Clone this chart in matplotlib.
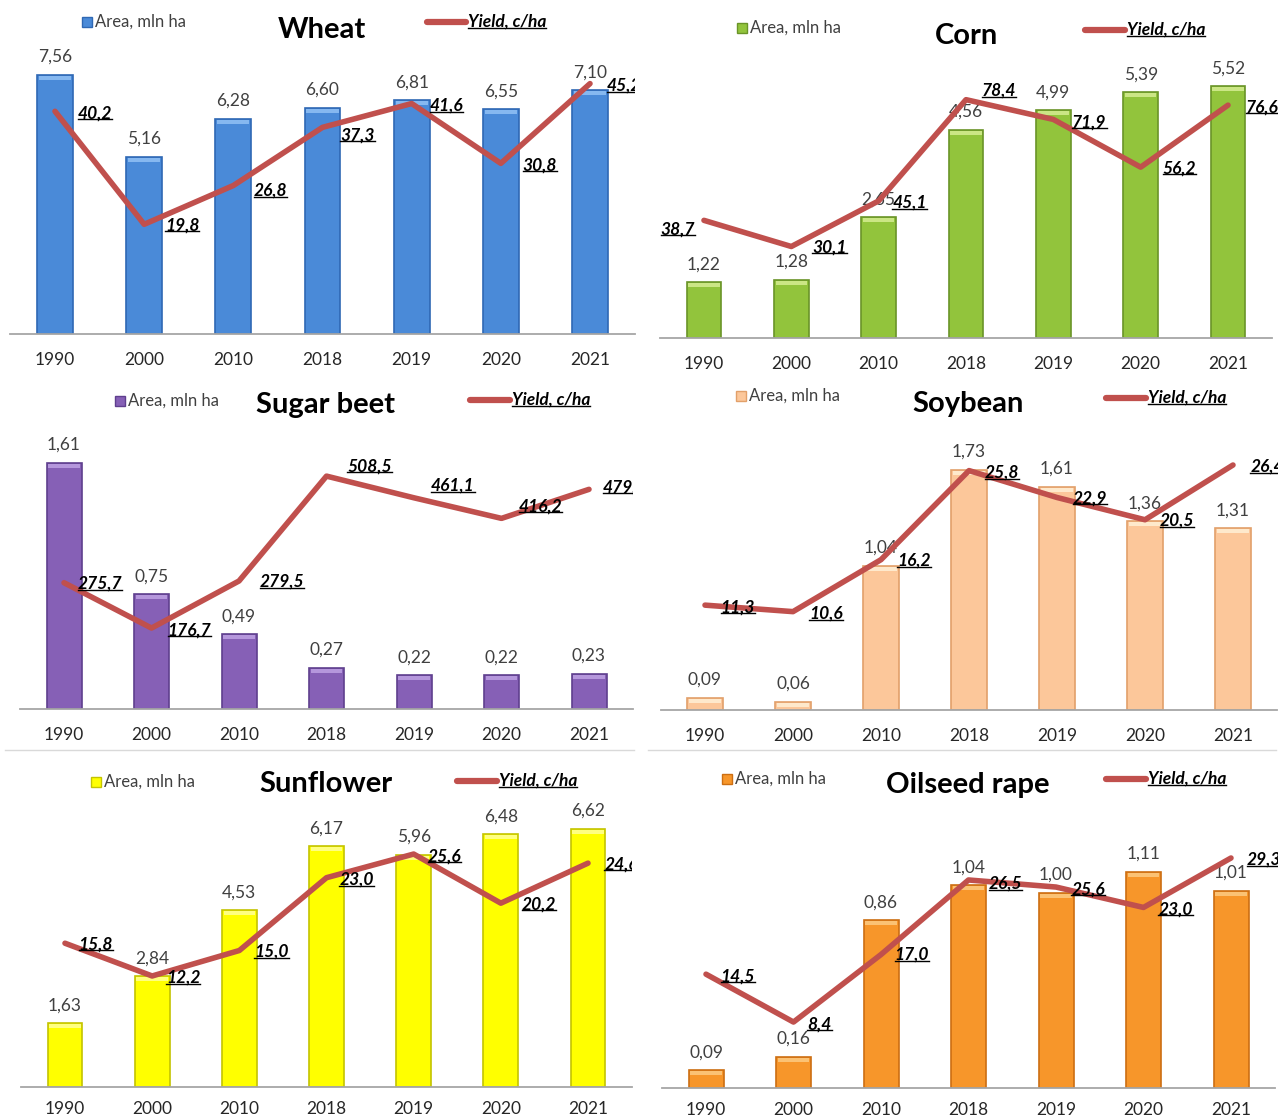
import matplotlib.pyplot as plt
import numpy as np
from matplotlib.lines import Line2D
from matplotlib.transforms import offset_copy

plt.rcParams['font.family'] = ['Lato', 'DejaVu Sans']

W, H = 1278, 1119

years = ['1990', '2000', '2010', '2018', '2019', '2020', '2021']

wheat_area = [7.56, 5.16, 6.28, 6.60, 6.81, 6.55, 7.10]
wheat_yield = [40.2, 19.8, 26.8, 37.3, 41.6, 30.8, 45.2]

corn_area = [1.22, 1.28, 2.65, 4.56, 4.99, 5.39, 5.52]
corn_yield = [38.7, 30.1, 45.1, 78.4, 71.9, 56.2, 76.6]

beet_area = [1.61, 0.75, 0.49, 0.27, 0.22, 0.22, 0.23]
beet_yield = [275.7, 176.7, 279.5, 508.5, 461.1, 416.2, 479.6]

soy_area = [0.09, 0.06, 1.04, 1.73, 1.61, 1.36, 1.31]
soy_yield = [11.3, 10.6, 16.2, 25.8, 22.9, 20.5, 26.4]

sun_area = [1.63, 2.84, 4.53, 6.17, 5.96, 6.48, 6.62]
sun_yield = [15.8, 12.2, 15.0, 23.0, 25.6, 20.2, 24.6]

rape_area = [0.09, 0.16, 0.86, 1.04, 1.00, 1.11, 1.01]
rape_yield = [14.5, 8.4, 17.0, 26.5, 25.6, 23.0, 29.3]

LINE_RED = '#c0504d'

# layout in pixels: box = (left, right, top, baseline), px per unit for both axes,
# yield label offsets (dx, dy down), title / legend anchors
panels = [
    dict(name='Wheat', area=wheat_area, yld=wheat_yield,
         color='#4a8ad8', edge='#2f68b4', cap='#86b8f0',
         box=(10.4, 634.6, 40, 334), area_px=34.3, yield_px=5.54,
         offs=[(40, 2), (38, 1), (37, 5), (35, 8), (35, 2), (39, 2), (34, 2)],
         title=(322, 30), square=(87, 22), leg_line=(427, 466, 22), clip=True, pad=13),
    dict(name='Corn', area=corn_area, yld=corn_yield,
         color='#92c43c', edge='#6a9428', cap='#cbe685',
         box=(660.3, 1271.7, 45, 338), area_px=45.6, yield_px=3.04,
         offs=[(-26, 9), (38, 1), (31, 2), (33, -9), (36, 3), (39, 1), (34, 2)],
         title=(966, 36), square=(742, 28), leg_line=(1085, 1125, 30), clip=False, pad=13),
    dict(name='Sugar beet', area=beet_area, yld=beet_yield,
         color='#8660b6', edge='#5f3f8e', cap='#b597dc',
         box=(20.25, 632.75, 420, 709), area_px=152.8, yield_px=0.458,
         offs=[(36, 1), (38, 2), (43, 1), (43, -10), (39, -12), (39, -12), (36, -2)],
         title=(326, 405), square=(120, 401), leg_line=(470, 510, 400), clip=True, pad=13),
    dict(name='Soybean', area=soy_area, yld=soy_yield,
         color='#fcc79a', edge='#e2a06a', cap='#fee9cc',
         box=(661, 1277, 420, 710), area_px=138.7, yield_px=9.28,
         offs=[(33, 2), (33, 2), (33, 1), (33, 2), (33, 1), (32, 1), (34, 2)],
         title=(968, 404), square=(741, 396), leg_line=(1106, 1146, 398), clip=False, pad=13),
    dict(name='Sunflower', area=sun_area, yld=sun_yield,
         color='#ffff00', edge='#c4c400', cap='#ffff80',
         box=(21.4, 631.6, 800, 1087), area_px=39.0, yield_px=9.1,
         offs=[(31, 1), (31, 2), (32, 1), (30, 2), (31, 2), (38, 1), (33, 1)],
         title=(326, 784), square=(96, 782), leg_line=(457, 497, 781), clip=True, pad=10),
    dict(name='Oilseed rape', area=rape_area, yld=rape_yield,
         color='#f7962a', edge='#cc6e12', cap='#fbc274',
         box=(662.25, 1274.75, 800, 1088), area_px=195.0, yield_px=7.85,
         offs=[(32, 2), (26, 2), (31, 0), (37, 4), (32, 2), (32, 2), (33, 2)],
         title=(968, 785), square=(727, 779), leg_line=(1106, 1146, 779), clip=False, pad=10),
]


def fx(x):
    return x / W


def fy(y):
    return 1 - y / H


fig = plt.figure(figsize=(W / 100, H / 100), dpi=100)
underlined = []

for p in panels:
    left, right, top, base = p['box']
    ax = fig.add_axes([fx(left), fy(base), (right - left) / W, (base - top) / H])
    ax2 = ax.twinx()
    x = np.arange(len(years))
    area = np.array(p['area'])

    ax.set_xlim(-0.5, len(years) - 0.5)
    ax.set_ylim(0, (base - top) / p['area_px'])
    ax2.set_ylim(0, (base - top) / p['yield_px'])

    # bars with a lighter bevel on top
    ax.bar(x, area, 0.4, color=p['color'], edgecolor=p['edge'], linewidth=1.2, zorder=2)
    cap_h = 4 / p['area_px']
    ax.bar(x, np.full(len(x), cap_h), 0.36, bottom=area - cap_h - 1 / p['area_px'],
           color=p['cap'], edgecolor='none', zorder=3)
    for i, v in enumerate(area):
        ax.text(i, v, f'{v:.2f}'.replace('.', ','), ha='center', va='center',
                fontsize=12.5, color='#404040',
                transform=offset_copy(ax.transData, fig=fig, x=0, y=18, units='dots'))

    ax2.plot(x, p['yld'], color=LINE_RED, lw=4, solid_joinstyle='round',
             solid_capstyle='round', zorder=4)
    for i, v in enumerate(p['yld']):
        dx, dy = p['offs'][i]
        t = ax2.text(i, v, f'{v:.1f}'.replace('.', ','), ha='center', va='center',
                     fontsize=12.5, fontweight='bold', style='italic', color='black',
                     transform=offset_copy(ax2.transData, fig=fig, x=dx, y=-dy, units='dots'),
                     clip_on=p['clip'], zorder=5)
        underlined.append((t, ax if p['clip'] else None))

    ax.set_xticks(x, years)
    ax.tick_params(axis='x', length=0, pad=p['pad'], labelsize=12.5, labelcolor='#262626')
    ax.set_yticks([])
    ax2.set_yticks([])
    for s in ['left', 'right', 'top']:
        ax.spines[s].set_visible(False)
    for s in ax2.spines.values():
        s.set_visible(False)
    ax.spines['bottom'].set_color('#a6a6a6')
    ax.spines['bottom'].set_linewidth(1.3)

    # title and legend entries
    tx, ty = p['title']
    fig.text(fx(tx), fy(ty), p['name'], ha='center', va='center',
             fontsize=21, fontweight='bold', color='black')
    sx, sy = p['square']
    fig.add_artist(Line2D([fx(sx)], [fy(sy)], marker='s', ms=7, color=p['color'],
                          mec=p['edge'], transform=fig.transFigure))
    fig.text(fx(sx + 8), fy(sy), 'Area, mln ha', ha='left', va='center',
             fontsize=12, color='#404040')
    lx0, lx1, ly = p['leg_line']
    fig.add_artist(Line2D([fx(lx0), fx(lx1)], [fy(ly), fy(ly)], lw=4.5, color=LINE_RED,
                          solid_capstyle='round', transform=fig.transFigure))
    t = fig.text(fx(lx1 + 2), fy(ly), 'Yield, c/ha', ha='left', va='center',
                 fontsize=12.5, fontweight='bold', style='italic', color='black')
    underlined.append((t, None))

# thin separators between the rows of charts
for x0, x1 in [(5, 634), (648, 1276)]:
    fig.add_artist(Line2D([fx(x0), fx(x1)], [fy(750), fy(750)], lw=1,
                          color='#d9d9d9', transform=fig.transFigure))

# underline the yield values
fig.canvas.draw()
renderer = fig.canvas.get_renderer()
inv = fig.transFigure.inverted()
for t, clip_ax in underlined:
    bb = t.get_window_extent(renderer)
    (a0, b0), (a1, _) = inv.transform([(bb.x0, bb.y0 + 2), (bb.x1, bb.y0 + 2)])
    ln = Line2D([a0, a1], [b0, b0], lw=1, color='black', transform=fig.transFigure)
    if clip_ax is not None:
        ln.set_clip_path(clip_ax.patch)
    fig.add_artist(ln)

fig.savefig('out.png', dpi=100)
